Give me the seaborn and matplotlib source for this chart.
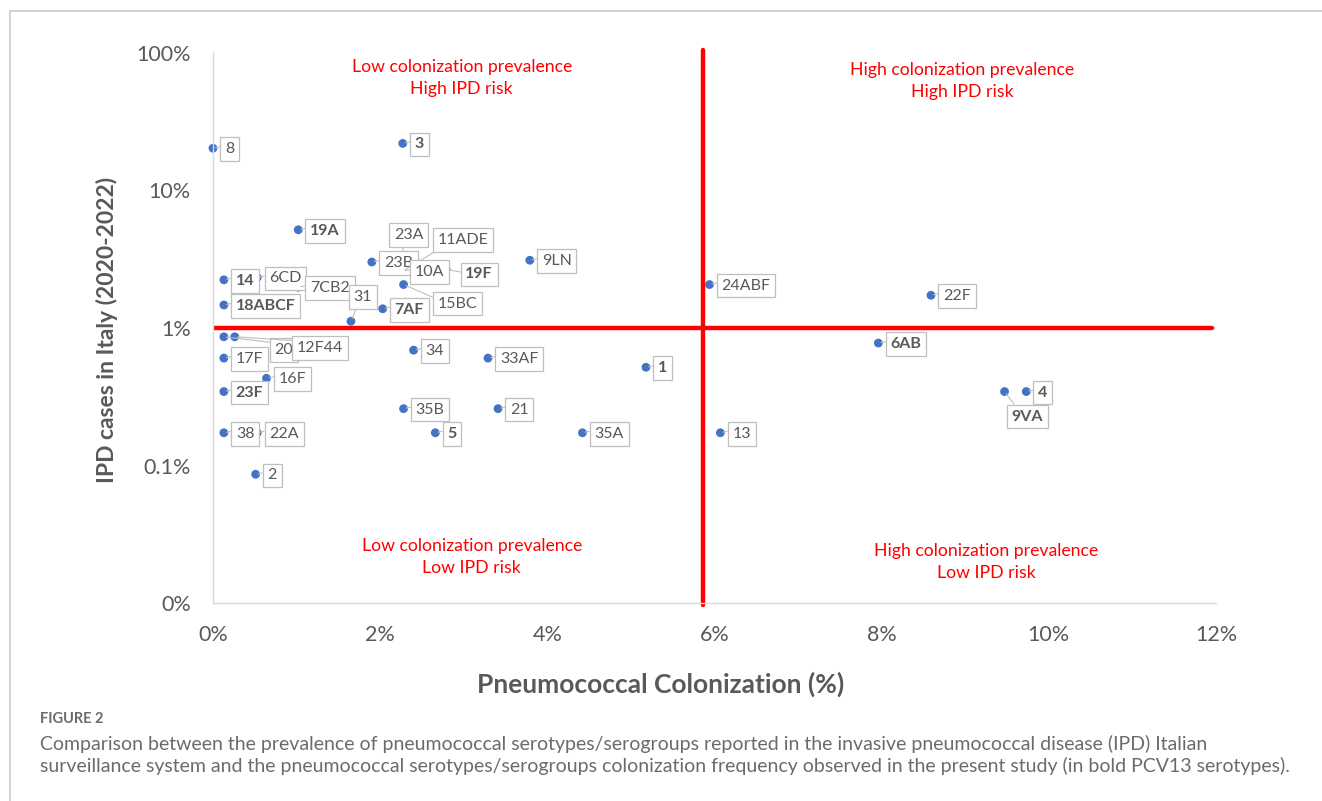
import matplotlib
matplotlib.use("Agg")
import matplotlib.pyplot as plt
from matplotlib.lines import Line2D
import seaborn as sns
import pandas as pd

# Serotype / serogroup labels with colonization frequency (%) and share of IPD cases (%)
serotypes = ["8", "3", "19A", "23A", "23B", "11ADE", "10A", "19F", "15BC", "9LN",
             "14", "6CD", "7CB2", "18ABCF", "31", "7AF", "24ABF", "22F", "6AB", "4",
             "9VA", "13", "1", "35A", "21", "33AF", "34", "35B", "5", "20",
             "12F44", "17F", "16F", "23F", "38", "22A", "2"]
colonization_pct = [0.00, 2.27, 1.02, 2.27, 1.90, 2.27, 2.27, 2.79, 2.28, 3.79,
                    0.13, 0.53, 1.02, 0.13, 1.65, 2.03, 5.94, 8.59, 7.96, 9.73,
                    9.47, 6.07, 5.18, 4.42, 3.41, 3.29, 2.40, 2.28, 2.66, 0.13,
                    0.26, 0.13, 0.64, 0.13, 0.13, 0.53, 0.51]
ipd_pct = [20.3, 22.0, 5.18, 2.59, 3.02, 2.59, 2.59, 2.67, 2.07, 3.11,
           2.24, 2.33, 1.98, 1.47, 1.12, 1.38, 2.07, 1.73, 0.777, 0.345,
           0.345, 0.173, 0.518, 0.173, 0.259, 0.604, 0.690, 0.259, 0.173, 0.863,
           0.863, 0.604, 0.431, 0.345, 0.173, 0.173, 0.0863]
pcv13 = {"1", "3", "4", "5", "6AB", "7AF", "9VA", "14", "18ABCF", "19A", "19F", "23F"}

x_ticks = [0, 2, 4, 6, 8, 10, 12]
x_tick_labels = ["0%", "2%", "4%", "6%", "8%", "10%", "12%"]
y_ticks = [0.01, 0.1, 1, 10, 100]
y_tick_labels = ["0%", "0.1%", "1%", "10%", "100%"]

colonization_cut = 5.86
ipd_cut = 1.0

quadrant_texts = [
    ("Low colonization prevalence\nHigh IPD risk", 0.248, 0.954),
    ("High colonization prevalence\nHigh IPD risk", 0.747, 0.949),
    ("Low colonization prevalence\nLow IPD risk", 0.258, 0.084),
    ("High colonization prevalence\nLow IPD risk", 0.771, 0.075),
]

# label box placement (pixel offsets of box centre from the point) for crowded spots
special_offsets = {
    "23A": (6, 36, (0.3, 0.0)),
    "11ADE": (60, 31, (0.1, 0.0)),
    "15BC": (54, -19, (0.0, 0.8)),
    "31": (12, 24, (0.25, 0.0)),
    "20": (60, -13, (0.0, 1.0)),
    "12F44": (85, -11, (0.0, 1.0)),
    "9VA": (23, -25, (0.2, 1.0)),
    "19F": (33, -5, (0.0, 0.6)),
}

df = pd.DataFrame({"serotype": serotypes, "colonization": colonization_pct, "ipd": ipd_pct})

sns.set_theme(style="white")
plt.rcParams["font.family"] = ["Lato", "DejaVu Sans"]

fig = plt.figure(figsize=(13.22, 8.01), dpi=100)
ax = fig.add_axes([213 / 1322, 1 - 603 / 801, 1003 / 1322, 550 / 801])

sns.scatterplot(data=df, x="colonization", y="ipd", color="#4472C4", s=40,
                edgecolor="none", ax=ax, zorder=2, clip_on=False)

ax.set_yscale("log")
ax.set_xlim(0, 12)
ax.set_ylim(0.01, 100)
ax.set_xticks(x_ticks)
ax.set_xticklabels(x_tick_labels)
ax.set_yticks(y_ticks)
ax.set_yticklabels(y_tick_labels)
ax.minorticks_off()
ax.tick_params(axis="both", length=0, labelsize=15.5, labelcolor="#595959")
ax.tick_params(axis="y", pad=16)
ax.tick_params(axis="x", pad=16)

for side in ["top", "right"]:
    ax.spines[side].set_visible(False)
for side in ["left", "bottom"]:
    ax.spines[side].set_color("#d9d9d9")
    ax.spines[side].set_linewidth(1.0)

# quadrant dividers
ax.axvline(colonization_cut, ymin=-0.003, ymax=1.006, color="#ff0000", lw=3.2,
           clip_on=False, zorder=1)
ax.axhline(ipd_cut, xmin=0, xmax=0.996, color="#ff0000", lw=3.2, zorder=1)

for txt, qx, qy in quadrant_texts:
    ax.text(qx, qy, txt, transform=ax.transAxes, ha="center", va="center",
            color="#ff0000", fontsize=12.7, linespacing=1.45)

ax.set_xlabel("Pneumococcal Colonization (%)", fontsize=19, fontweight="bold",
              color="#595959")
ax.set_ylabel("IPD cases in Italy (2020-2022)", fontsize=16.5, fontweight="bold",
              color="#595959")
ax.xaxis.set_label_coords(0.446, -0.125)
ax.yaxis.set_label_coords(-0.095, 0.496)

box = dict(boxstyle="square,pad=0.3", fc="white", ec="#bfbfbf", lw=0.9)
for name, cx, cy in zip(serotypes, colonization_pct, ipd_pct):
    weight = "bold" if name in pcv13 else "normal"
    if name in special_offsets:
        dx, dy, rel = special_offsets[name]
        ha = "center"
    else:
        dx, dy, rel = 12, -1, (0.0, 0.75)
        ha = "left"
    ax.annotate(name, xy=(cx, cy), xytext=(dx, dy), textcoords="offset pixels",
                ha=ha, va="center", fontsize=11.5, fontweight=weight, color="#595959",
                bbox=box, zorder=4, annotation_clip=False,
                arrowprops=dict(arrowstyle="-", color="#bfbfbf", lw=0.8,
                                shrinkA=0, shrinkB=2, relpos=rel))

# panel frame and caption
fig.add_artist(Line2D([10 / 1322, 1.0], [1 - 11 / 801, 1 - 11 / 801], color="#cccccc", lw=1.2))
fig.add_artist(Line2D([10 / 1322, 10 / 1322], [0.0, 1 - 11 / 801], color="#cccccc", lw=1.2))
fig.text(40 / 1322, 1 - 719 / 801, "FIGURE 2", fontsize=10.5, fontweight="bold",
         color="#6b6b6b", va="center")
fig.text(40 / 1322, 1 - 755 / 801,
         "Comparison between the prevalence of pneumococcal serotypes/serogroups reported in the invasive pneumococcal disease (IPD) Italian\n"
         "surveillance system and the pneumococcal serotypes/serogroups colonization frequency observed in the present study (in bold PCV13 serotypes).",
         fontsize=14, color="#6b6b6b", va="center", linespacing=1.3)

fig.savefig("out.png", dpi=100, facecolor="white")
